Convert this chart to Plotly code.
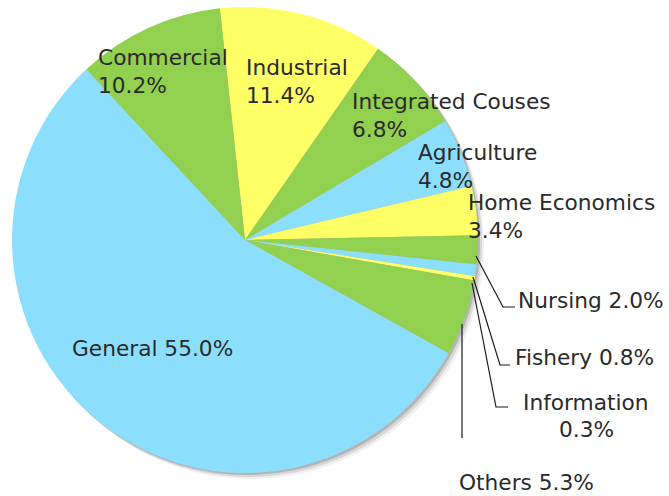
import plotly.graph_objects as go

# data, clockwise from just left of 12 o'clock
categories = ['Industrial', 'Integrated Couses', 'Agriculture', 'Home Economics',
              'Nursing', 'Fishery', 'Information', 'Others', 'General', 'Commercial']
shares = [11.4, 6.8, 4.8, 3.4, 2.0, 0.8, 0.3, 5.3, 55.0, 10.2]

BLUE = '#8CDFFC'
GREEN = '#92D050'
YELLOW = '#FFFF66'
colors = [YELLOW, GREEN, BLUE, YELLOW, GREEN, BLUE, YELLOW, GREEN, BLUE, GREEN]

W, H = 669, 496
cx, cy, r = 245, 240, 233


def dom(dx=0, dy=0):
    return dict(x=[(cx - r + dx) / W, (cx + r + dx) / W],
                y=[1 - (cy + r + dy) / H, 1 - (cy - r + dy) / H])


fig = go.Figure()

# soft shadow behind the pie
for off, a in [(6, 0.06), (4, 0.10), (2, 0.16)]:
    fig.add_trace(go.Pie(values=[1], labels=['shadow'], domain=dom(off, off),
                         marker=dict(colors=[f'rgba(0,0,0,{a})']), textinfo='none',
                         hoverinfo='skip', showlegend=False, sort=False))

fig.add_trace(go.Pie(
    labels=categories, values=shares, sort=False, direction='clockwise',
    rotation=-6.2, marker=dict(colors=colors, line=dict(width=0)),
    textinfo='none', domain=dom(), showlegend=False,
))

FONT = dict(family='DejaVu Sans', size=21.7, color='#2a2a2a')
labels = [
    ('Commercial', 96, 57, 'left'), ('10.2%', 96, 85, 'left'),
    ('Industrial', 244, 67, 'left'), ('11.4%', 244, 95, 'left'),
    ('Integrated Couses', 350, 101, 'left'), ('6.8%', 350, 129, 'left'),
    ('Agriculture', 416, 152, 'left'), ('4.8%', 416, 180, 'left'),
    ('Home Economics', 466, 202, 'left'), ('3.4%', 466, 230, 'left'),
    ('Nursing 2.0%', 516, 300, 'left'),
    ('Fishery 0.8%', 513, 357, 'left'),
    ('Information', 586, 402, 'center'), ('0.3%', 586, 429, 'center'),
    ('Others 5.3%', 457, 482, 'left'),
    ('General 55.0%', 70, 348, 'left'),
]
for txt, x, y, anchor in labels:
    fig.add_annotation(x=x, y=y, xref='x', yref='y', text=txt, showarrow=False,
                       xanchor=anchor, yanchor='middle', font=FONT)

# leader lines
leaders = [
    [(476, 256), (503, 307), (515, 307)],
    [(473, 277), (500, 365), (510, 365)],
    [(472, 283), (496, 407), (508, 407)],
    [(462, 324), (462, 438)],
]
for pts in leaders:
    path = 'M ' + ' L '.join(f'{px},{py}' for px, py in pts)
    fig.add_shape(type='path', path=path, xref='x', yref='y',
                  line=dict(color='#1a1a1a', width=1.2))

fig.update_layout(
    width=W, height=H, margin=dict(l=0, r=0, t=0, b=0),
    paper_bgcolor='white', plot_bgcolor='rgba(0,0,0,0)',
    xaxis=dict(range=[0, W], visible=False, domain=[0, 1]),
    yaxis=dict(range=[H, 0], visible=False, domain=[0, 1]),
)

# drop the browser's default 8px page margin so the figure sits at the corner
fig.write_html('out.html', config={'displayModeBar': False},
               post_script="document.body.style.margin='0';")
